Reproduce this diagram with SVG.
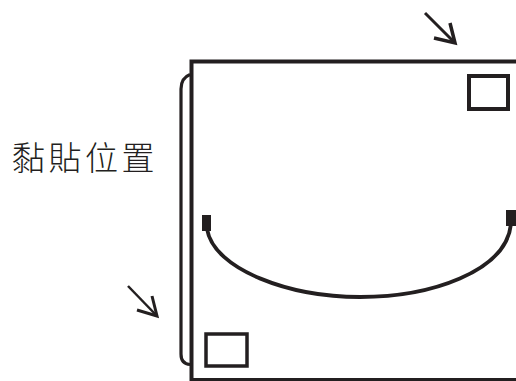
<svg xmlns="http://www.w3.org/2000/svg" width="516" height="381" viewBox="0 0 516 381">
<defs>
<style>
.ln{fill:none;stroke:#231f20;stroke-linecap:butt;stroke-linejoin:miter}
.lbl{font-family:"Noto Sans CJK TC","Noto Sans CJK SC",sans-serif;font-size:33px;fill:#231f20;font-weight:300}
</style>
</defs>
<rect width="516" height="381" fill="#ffffff"/>
<g id="sheet">
<path class="ln" d="M191.5,381 L191.5,61.5 L516,61.5" stroke-width="4"/>
<path class="ln" d="M191.5,379.5 L516,379.5" stroke-width="3"/>
</g>
<g id="bracket">
<path class="ln" d="M190,74.5 Q181,78 181,89 L181,354 Q181,364 190,364.5" stroke-width="3.2"/>
</g>
<g id="square-top">
<rect class="ln" x="469" y="76" width="39" height="33" stroke-width="4"/>
</g>
<g id="square-bottom">
<rect class="ln" x="206" y="334" width="41" height="32" stroke-width="3.5"/>
</g>
<g id="handle">
<rect x="202" y="215" width="9" height="16" fill="#231f20"/>
<rect x="506" y="210" width="10" height="16" fill="#231f20"/>
<path class="ln" d="M207,229 C214,270 290,297 360,297 C430,297 506,272 511,224" stroke-width="3.8"/>
</g>
<g id="label">
<text class="lbl" x="12" y="170" letter-spacing="3.5">黏貼位置</text>
</g>
<g id="connectors">
<path class="ln" d="M425,13 L455,43" stroke-width="3"/>
<path class="ln" d="M450,23 L455,43 L434,38" stroke-width="3.5"/>
<path class="ln" d="M128,286 L157,316" stroke-width="2.5"/>
<path class="ln" d="M152,296 L157,316 L137,310" stroke-width="3"/>
</g>
</svg>
